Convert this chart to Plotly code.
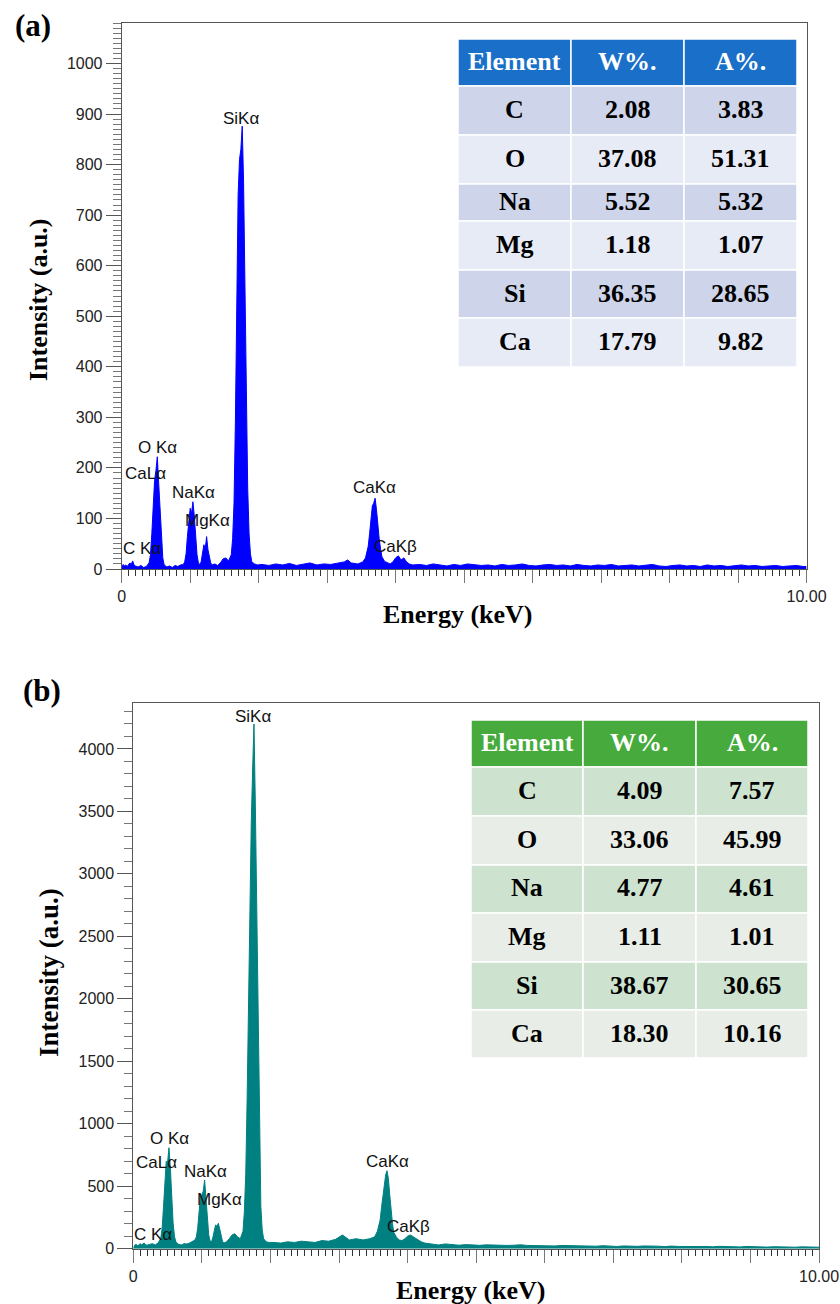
import plotly.graph_objects as go

W, H = 840, 1304


def px(x):
    return x / W


def py(y):
    return 1 - y / H


# ---------------- DATA ----------------
# energy grid (keV) for the low-energy region (shared by both spectra)
energy_low = [0.00, 0.02, 0.04, 0.06, 0.08, 0.10, 0.12, 0.14, 0.16, 0.18,
              0.20, 0.24, 0.28, 0.32, 0.36, 0.40, 0.42, 0.44, 0.46, 0.48,
              0.50, 0.52, 0.54, 0.56, 0.58, 0.60, 0.62, 0.66, 0.70, 0.74,
              0.78, 0.82, 0.86, 0.90, 0.92, 0.94, 0.96, 0.98, 1.00, 1.02,
              1.04, 1.06, 1.08, 1.10, 1.12, 1.14, 1.16, 1.18, 1.20, 1.22,
              1.24, 1.26, 1.28, 1.30, 1.32, 1.36, 1.40, 1.44, 1.48, 1.52,
              1.56, 1.60, 1.62, 1.64, 1.66, 1.68, 1.70, 1.72, 1.74, 1.76,
              1.78, 1.80, 1.82, 1.84, 1.86, 1.88, 1.90, 1.94, 1.98]
energy_mid = [2.05, 2.15, 2.25, 2.35, 2.45, 2.55, 2.65, 2.75, 2.85, 2.95,
              3.05, 3.15, 3.25, 3.30, 3.35, 3.45, 3.52, 3.56, 3.60, 3.62,
              3.64, 3.66, 3.68, 3.70, 3.72, 3.74, 3.76, 3.78, 3.80, 3.84,
              3.88, 3.92, 3.96, 4.00, 4.04, 4.08, 4.12, 4.16, 4.20, 4.25]
energy_high = [4.35, 4.45, 4.55, 4.65, 4.75, 4.85, 4.95, 5.05, 5.15, 5.25,
               5.35, 5.45, 5.55, 5.65, 5.75, 5.85, 5.95, 6.05, 6.15, 6.25,
               6.35, 6.45, 6.55, 6.65, 6.75, 6.85, 6.95, 7.05, 7.15, 7.25,
               7.35, 7.45, 7.55, 7.65, 7.75, 7.85, 7.95, 8.05, 8.15, 8.25,
               8.35, 8.45, 8.55, 8.65, 8.75, 8.85, 8.95, 9.05, 9.15, 9.25,
               9.35, 9.45, 9.55, 9.65, 9.75, 9.85, 9.95, 10.00]

# spectrum (a) counts
counts_a_low = [0, 9, 6, 8, 5, 10, 12, 9, 16, 8,
                6, 4, 7, 3, 5, 12, 28, 70, 135, 175,
                195, 222, 170, 115, 55, 22, 8, 4, 6, 3,
                7, 5, 8, 9, 14, 30, 65, 100, 120, 110,
                133, 105, 60, 28, 12, 9, 14, 32, 48, 40,
                64, 38, 22, 12, 8, 10, 7, 12, 20, 22,
                16, 28, 60, 130, 290, 520, 740, 810, 830, 876,
                765, 560, 330, 160, 70, 30, 14, 10, 8]
counts_a_mid = [9, 7, 10, 8, 11, 7, 9, 12, 8, 10,
                9, 11, 14, 18, 12, 10, 14, 22, 45, 70,
                100, 125, 130, 140, 118, 85, 60, 40, 24, 15,
                12, 10, 14, 22, 26, 18, 22, 14, 10, 8]
counts_a_high = [9, 7, 10, 8, 6, 9, 7, 10, 8, 7,
                 8, 6, 9, 7, 8, 10, 7, 6, 8, 9,
                 7, 8, 6, 9, 7, 6, 8, 7, 9, 6,
                 7, 8, 6, 7, 9, 6, 5, 7, 8, 6,
                 7, 5, 8, 6, 7, 5, 6, 8, 6, 7,
                 5, 6, 7, 5, 6, 7, 5, 5]

# spectrum (b) counts
counts_b_low = [0, 28, 35, 25, 30, 40, 32, 38, 45, 30,
                28, 35, 40, 30, 45, 80, 160, 330, 560, 700,
                690, 808, 650, 420, 210, 100, 55, 35, 30, 40,
                38, 45, 55, 70, 95, 170, 300, 420, 430, 460,
                550, 400, 230, 110, 60, 55, 90, 150, 190, 180,
                203, 160, 100, 60, 45, 55, 80, 110, 120, 95,
                80, 140, 300, 600, 1200, 2000, 2800, 3400, 3830, 4200,
                3550, 2700, 1600, 800, 340, 150, 80, 55, 50]
counts_b_mid = [50, 45, 55, 50, 60, 55, 50, 65, 60, 75,
                110, 70, 80, 75, 70, 80, 95, 140, 230, 330,
                430, 520, 590, 624, 560, 430, 300, 200, 130, 90,
                70, 65, 80, 100, 110, 95, 80, 65, 55, 45]
counts_b_high = [35, 30, 38, 32, 28, 33, 30, 27, 31, 28,
                 30, 26, 28, 31, 26, 24, 28, 25, 22, 26,
                 24, 21, 25, 22, 20, 24, 21, 18, 22, 20,
                 19, 22, 18, 20, 17, 21, 18, 16, 20, 17,
                 18, 15, 19, 16, 17, 14, 18, 15, 16, 13,
                 16, 14, 15, 12, 15, 13, 14, 12]

# peak labels: text, energy (keV), counts position
peak_labels = ["C Kα", "CaLα", "O Kα", "NaKα", "MgKα", "SiKα", "CaKα", "CaKβ"]
label_e_a = [0.29, 0.345, 0.52, 1.045, 1.26, 1.74, 3.69, 4.00]
label_c_a = [40, 188, 240, 151, 95, 892, 161, 44]
label_e_b = [0.29, 0.345, 0.528, 1.048, 1.264, 1.75, 3.70, 4.01]
label_c_b = [110, 690, 883, 616, 390, 4256, 696, 181]

# composition tables
table_header = ["Element", "W%.", "A%."]
elements = ["C", "O", "Na", "Mg", "Si", "Ca"]
wt_a = ["2.08", "37.08", "5.52", "1.18", "36.35", "17.79"]
at_a = ["3.83", "51.31", "5.32", "1.07", "28.65", "9.82"]
wt_b = ["4.09", "33.06", "4.77", "1.11", "38.67", "18.30"]
at_b = ["7.57", "45.99", "4.61", "1.01", "30.65", "10.16"]

x_ticks = [0, 1, 2, 3, 4, 5, 6, 7, 8, 9, 10]
x_ticktext = ["0", "", "", "", "", "", "", "", "", "", "10.00"]

# ---------------- FIGURE ----------------
energy_all = energy_low + energy_mid + energy_high
counts_a = counts_a_low + counts_a_mid + counts_a_high
counts_b = counts_b_low + counts_b_mid + counts_b_high
assert len(energy_all) == len(counts_a) == len(counts_b), (len(energy_all), len(counts_a), len(counts_b))

BLUE = "#0000ff"
TEAL = "#008080"
SANS = "Liberation Sans, Arial, sans-serif"
SERIF = "Liberation Serif, Times New Roman, serif"

fig = go.Figure()
fig.add_trace(go.Scatter(x=energy_all, y=counts_a, mode="lines",
                         line=dict(color=BLUE, width=1), fill="tozeroy",
                         fillcolor=BLUE, xaxis="x", yaxis="y", hoverinfo="skip"))
fig.add_trace(go.Scatter(x=energy_all, y=counts_b, mode="lines",
                         line=dict(color=TEAL, width=1), fill="tozeroy",
                         fillcolor=TEAL, xaxis="x2", yaxis="y2", hoverinfo="skip"))


def xaxis_style(domain, anchor):
    return dict(domain=domain, anchor=anchor, range=[0, 10], automargin=False,
                tickmode="array", tickvals=x_ticks, ticktext=x_ticktext,
                ticks="outside", ticklen=13, tickwidth=1, tickcolor="#777",
                minor=dict(tickmode="linear", tick0=0, dtick=0.1, ticks="outside",
                           ticklen=6, tickwidth=1, tickcolor="#333", showgrid=False),
                showline=True, linecolor="#555", linewidth=1, mirror=True,
                showgrid=False, zeroline=False,
                tickfont=dict(family=SANS, size=16, color="#222"))


def yaxis_style(domain, anchor, rmax, dtick, mdtick, fsize):
    return dict(domain=domain, anchor=anchor, range=[0, rmax], automargin=False,
                tickmode="linear", tick0=0, dtick=dtick,
                ticks="outside", ticklen=15, tickwidth=1, tickcolor="#555",
                minor=dict(tickmode="linear", tick0=0, dtick=mdtick, ticks="outside",
                           ticklen=8, tickwidth=1, tickcolor="#777", showgrid=False),
                showline=True, linecolor="#555", linewidth=1, mirror=True,
                showgrid=False, zeroline=False,
                tickfont=dict(family=SANS, size=fsize, color="#222"))


fig.update_layout(
    width=W, height=H, autosize=False, margin=dict(l=0, r=0, t=0, b=0, pad=0, autoexpand=False),
    paper_bgcolor="white", plot_bgcolor="white", showlegend=False,
    xaxis=xaxis_style([px(121.7), px(806.5)], "y"),
    yaxis=yaxis_style([py(569), py(23)], "x", 1080, 100, 10, 16),
    xaxis2=xaxis_style([px(133.3), px(819)], "y2"),
    yaxis2=yaxis_style([py(1248.7), py(702.7)], "x2", 4370, 500, 100, 16),
)

annotations = []
shapes = []

# peak labels
for txt, e, c in zip(peak_labels, label_e_a, label_c_a):
    annotations.append(dict(x=e, y=c, xref="x", yref="y", text=txt, showarrow=False,
                            font=dict(family=SANS, size=17, color="#111"),
                            xanchor="center", yanchor="middle"))
for txt, e, c in zip(peak_labels, label_e_b, label_c_b):
    annotations.append(dict(x=e, y=c, xref="x2", yref="y2", text=txt, showarrow=False,
                            font=dict(family=SANS, size=17, color="#111"),
                            xanchor="center", yanchor="middle"))


def text(x, y, s, size, angle=0, color="black"):
    annotations.append(dict(x=px(x), y=py(y), xref="paper", yref="paper",
                            text="<b>" + s + "</b>", showarrow=False, textangle=angle,
                            font=dict(family=SERIF, size=size, color=color),
                            xanchor="center", yanchor="middle"))


# axis titles and panel letters
text(33, 26, "(a)", 31)
text(38, 300, "Intensity (a.u.)", 26, angle=-90)
text(458, 614, "Energy (keV)", 26)
text(42, 690, "(b)", 31)
text(49, 973, "Intensity (a.u.)", 27, angle=-90)
text(470, 1290, "Energy (keV)", 26)


def draw_table(xe, ye, head_col, dark, light, wt, at):
    cols = [table_header] + [[elements[i], wt[i], at[i]] for i in range(len(elements))]
    for r, row in enumerate(cols):
        if r == 0:
            fill = head_col
        else:
            fill = dark if r % 2 == 1 else light
        for c, val in enumerate(row):
            shapes.append(dict(type="rect", xref="paper", yref="paper",
                               x0=px(xe[c]), x1=px(xe[c + 1]),
                               y0=py(ye[r + 1]), y1=py(ye[r]),
                               fillcolor=fill, line=dict(color="white", width=1.5),
                               layer="above"))
            text((xe[c] + xe[c + 1]) / 2, (ye[r] + ye[r + 1]) / 2 - 1, val, 26,
                 color="white" if r == 0 else "black")


draw_table([458, 571, 684, 797], [39, 86, 135, 184, 221, 270, 318, 367],
           "#1a6fc8", "#ced4e9", "#e7ebf5", wt_a, at_a)
draw_table([471, 583, 696, 808], [720, 767, 816, 865, 913, 962, 1010, 1058],
           "#46ab3c", "#cde3cf", "#e8eee7", wt_b, at_b)

fig.update_layout(annotations=annotations, shapes=shapes)
fig.write_html(
    "out.html",
    config={"responsive": False},
    post_script="document.body.style.margin='0';document.body.style.overflow='hidden';",
)
